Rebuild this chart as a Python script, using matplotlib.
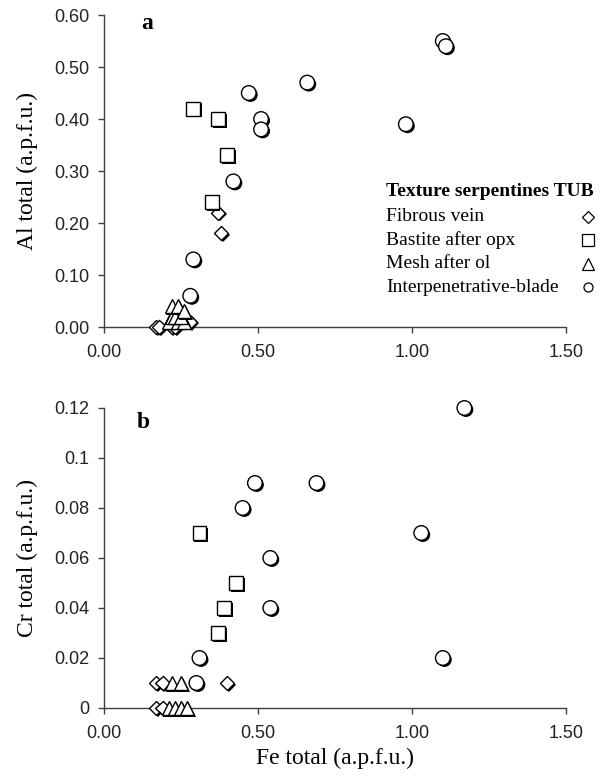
import matplotlib
matplotlib.use("Agg")
import matplotlib.pyplot as plt
import matplotlib.patheffects as pe
from matplotlib.lines import Line2D
from matplotlib.ticker import FixedLocator, FixedFormatter

# ---------------- data ----------------
# Panel a: Fe total vs Al total
fib_fe_a = [0.37, 0.38, 0.17, 0.18, 0.22, 0.23, 0.28]
fib_al_a = [0.22, 0.18, 0.00, 0.00, 0.00, 0.00, 0.01]
bas_fe_a = [0.29, 0.37, 0.40, 0.35]
bas_al_a = [0.42, 0.40, 0.33, 0.24]
mesh_fe_a = [0.21, 0.24, 0.26, 0.22, 0.23, 0.25, 0.22, 0.24, 0.26]
mesh_al_a = [0.01, 0.01, 0.01, 0.02, 0.02, 0.02, 0.04, 0.04, 0.03]
int_fe_a = [1.10, 1.11, 0.47, 0.66, 0.51, 0.51, 0.98, 0.42, 0.29, 0.28]
int_al_a = [0.55, 0.54, 0.45, 0.47, 0.40, 0.38, 0.39, 0.28, 0.13, 0.06]

# Panel b: Fe total vs Cr total
fib_fe_b = [0.17, 0.19, 0.40, 0.17, 0.19]
fib_cr_b = [0.01, 0.01, 0.01, 0.00, 0.00]
bas_fe_b = [0.31, 0.43, 0.39, 0.37]
bas_cr_b = [0.07, 0.05, 0.04, 0.03]
mesh_fe_b = [0.22, 0.25, 0.21, 0.23, 0.25, 0.27]
mesh_cr_b = [0.01, 0.01, 0.00, 0.00, 0.00, 0.00]
int_fe_b = [1.17, 0.49, 0.69, 0.45, 1.03, 0.54, 0.54, 0.31, 1.10, 0.30]
int_cr_b = [0.12, 0.09, 0.09, 0.08, 0.07, 0.06, 0.04, 0.02, 0.02, 0.01]

legend_title = "Texture serpentines TUB"
series_names = ["Fibrous vein", "Bastite after opx", "Mesh after ol",
                "Interpenetrative-blade"]

x_ticks = [0.0, 0.5, 1.0, 1.5]
x_ticklabels = ["0.00", "0.50", "1.00", "1.50"]
ya_ticks = [0.0, 0.1, 0.2, 0.3, 0.4, 0.5, 0.6]
ya_ticklabels = ["0.00", "0.10", "0.20", "0.30", "0.40", "0.50", "0.60"]
yb_ticks = [0.0, 0.02, 0.04, 0.06, 0.08, 0.10, 0.12]
yb_ticklabels = ["0", "0.02", "0.04", "0.06", "0.08", "0.1", "0.12"]

# ---------------- style ----------------
W, H = 610, 784
fig = plt.figure(figsize=(W / 100, H / 100), dpi=100)
serif = ["Liberation Serif", "DejaVu Serif"]
sans = ["Liberation Sans", "DejaVu Sans"]
spine_col = "#404040"

def ax_rect(l, r, t, b):
    return [l / W, 1 - b / H, (r - l) / W, (b - t) / H]

axa = fig.add_axes(ax_rect(104, 566, 15, 327))
axb = fig.add_axes(ax_rect(104, 566, 408, 708))

shadow = [pe.SimplePatchShadow(offset=(1.2, -1.2), shadow_rgbFace="black", alpha=1.0),
          pe.Normal()]

styles = {
    "fib": dict(marker="D", ms=7.2),
    "bas": dict(marker="s", ms=10.0),
    "mesh": dict(marker="^", ms=10.0),
    "int": dict(marker="o", ms=10.5),
}

def draw(ax, xs, ys, key):
    st = styles[key]
    for x, y in zip(xs, ys):
        ax.plot([x], [y], linestyle="none", marker=st["marker"], ms=st["ms"],
                mfc="white", mec="black", mew=1.0, clip_on=False,
                path_effects=shadow, zorder=3)

draw(axa, fib_fe_a, fib_al_a, "fib")
draw(axa, bas_fe_a, bas_al_a, "bas")
draw(axa, mesh_fe_a, mesh_al_a, "mesh")
draw(axa, int_fe_a, int_al_a, "int")

draw(axb, fib_fe_b, fib_cr_b, "fib")
draw(axb, bas_fe_b, bas_cr_b, "bas")
draw(axb, mesh_fe_b, mesh_cr_b, "mesh")
draw(axb, int_fe_b, int_cr_b, "int")

for ax, yt, ytl, ylim in [(axa, ya_ticks, ya_ticklabels, (0, 0.6)),
                          (axb, yb_ticks, yb_ticklabels, (0, 0.12))]:
    ax.set_xlim(0, 1.5)
    ax.set_ylim(*ylim)
    ax.xaxis.set_major_locator(FixedLocator(x_ticks))
    ax.xaxis.set_major_formatter(FixedFormatter(x_ticklabels))
    ax.yaxis.set_major_locator(FixedLocator(yt))
    ax.yaxis.set_major_formatter(FixedFormatter(ytl))
    for s in ["top", "right"]:
        ax.spines[s].set_visible(False)
    for s in ["left", "bottom"]:
        ax.spines[s].set_color(spine_col)
        ax.spines[s].set_linewidth(1.0)
    ax.tick_params(direction="out", length=4.5, width=1.0, color=spine_col,
                   labelsize=13, labelcolor="#222222")
    ax.tick_params(axis="y", pad=6)
    ax.tick_params(axis="x", pad=8)
    for lab in ax.get_xticklabels() + ax.get_yticklabels():
        lab.set_family(sans)
    ax.patch.set_alpha(0)

axa.set_ylabel("Al total (a.p.f.u.)", fontsize=17, family=serif, labelpad=12)
axb.set_ylabel("Cr total (a.p.f.u.)", fontsize=17, family=serif, labelpad=12)
axb.set_xlabel("Fe total (a.p.f.u.)", fontsize=17, family=serif, labelpad=4)

axa.text(0.093, 0.974, "a", transform=axa.transAxes, fontsize=17,
         fontweight="bold", family=serif, ha="center", va="center")
axb.text(0.084, 0.95, "b", transform=axb.transAxes, fontsize=17,
         fontweight="bold", family=serif, ha="center", va="center")

# legend: left-aligned text, markers in a column on the right (no shadow)
leg_markers = [("D", 6.0), ("s", 8.5), ("^", 9.0), ("o", 6.5)]
leg_x_text = 386
leg_x_mark = 588
title_y = 192
row_ys = [216.5, 240.0, 263.5, 287.0]
fig.text(leg_x_text / W, 1 - title_y / H, legend_title, family=serif,
         fontsize=14, fontweight="bold", ha="left", va="center")
for name, (mk, ms), yy in zip(series_names, leg_markers, row_ys):
    fig.text(leg_x_text / W, 1 - yy / H, name, family=serif, fontsize=14,
             ha="left", va="center")
    fig.add_artist(Line2D([leg_x_mark / W], [1 - yy / H], transform=fig.transFigure,
                          linestyle="none", marker=mk, ms=ms, mfc="white",
                          mec="black", mew=0.9))

fig.savefig("out.png", dpi=100)
